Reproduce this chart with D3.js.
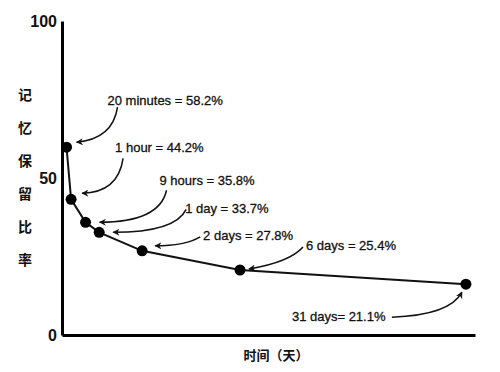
<!DOCTYPE html>
<html>
<head>
<meta charset="utf-8">
<title>遗忘曲线</title>
<script src="https://d3js.org/d3.v7.min.js"></script>
<style>
    body { margin: 0; background: #fff; }
    .axis path { stroke: #000; stroke-width: 3px; }
    .axis text { font: bold 16px "Liberation Sans", Arial, sans-serif; fill: #111; }
    .curve { fill: none; stroke: #111; stroke-width: 2px; }
    .dot { fill: #000; }
    .note { font: 13px "Liberation Sans", Arial, sans-serif; fill: #111; stroke: #111; stroke-width: 0.3px; }
    .arrow { fill: none; stroke: #111; stroke-width: 1.5px; }
    .cjk { font-family: "Noto Sans CJK SC", sans-serif; font-weight: bold; fill: #111; }
</style>
</head>
<body>
<div id="chart"></div>
<script>
// time position along the (unlabelled) x axis, 0-100
var timePos = [1.1, 2.2, 5.7, 9.0, 19.4, 43.1, 97.8];
// retention as plotted
var retention = [59.8, 43.2, 35.9, 32.7, 26.8, 20.7, 16.2];
// annotation texts
var labels = ["20 minutes = 58.2%", "1 hour = 44.2%", "9 hours = 35.8%", "1 day = 33.7%",
              "2 days = 27.8%", "6 days = 25.4%", "31 days= 21.1%"];
var yTicks = [0, 50, 100];
var yTitle = ["记", "忆", "保", "留", "比", "率"];
var xTitle = "时间（天）";

// label / arrow placement relative to each point (px)
var notes = [
    {tx: 41, ty: -47, s: [51, -40], c: [46, -8], e: [10, -5]},
    {tx: 44, ty: -52, s: [52, -41], c: [47, -7], e: [11, -6]},
    {tx: 74, ty: -42, s: [81, -32], c: [74, 0], e: [14, 0]},
    {tx: 86, ty: -24, s: [87, -23], c: [76, 0], e: [14, 0]},
    {tx: 61, ty: -15, s: [58, -14], c: [43, -5], e: [13, -5]},
    {tx: 66, ty: -25, s: [63, -23], c: [50, -8], e: [9, -1]},
    {tx: -174, ty: 32, s: [-74, 33], c: [-16, 31], e: [-4, 8]}
];

var width = 500, height = 372;

var svg = d3.select("#chart").append("svg")
    .attr("width", width).attr("height", height);

svg.append("defs").append("marker")
    .attr("id", "head")
    .attr("viewBox", "0 0 10 10")
    .attr("refX", 9).attr("refY", 5)
    .attr("markerWidth", 7).attr("markerHeight", 7)
    .attr("markerUnits", "userSpaceOnUse")
    .attr("orient", "auto")
    .append("path").attr("d", "M0,0 L10,5 L0,10 L3,5z").attr("fill", "#111");

var x = d3.scaleLinear().domain([0, 100]).range([62, 475]);
var y = d3.scaleLinear().domain([0, 100]).range([335, 21]);

svg.append("g").attr("class", "axis")
    .attr("transform", "translate(" + x(0) + ",0)")
    .call(d3.axisLeft(y).tickValues(yTicks).tickSize(0).tickPadding(5).tickSizeOuter(0));

svg.append("g").attr("class", "axis")
    .attr("transform", "translate(0," + y(0) + ")")
    .call(d3.axisBottom(x).tickValues([]).tickSizeOuter(0));

svg.selectAll(".axis text").attr("dy", "0.35em");

var pts = timePos.map(function(t, i) { return [x(t), y(retention[i])]; });

svg.append("path").attr("class", "curve")
    .attr("d", d3.line()(pts));

svg.selectAll(".dot").data(pts).enter()
    .append("circle").attr("class", "dot")
    .attr("cx", function(d) { return d[0]; })
    .attr("cy", function(d) { return d[1]; })
    .attr("r", 5.5);

svg.selectAll(".arrow").data(notes).enter()
    .append("path").attr("class", "arrow")
    .attr("marker-end", "url(#head)")
    .attr("d", function(n, i) {
        var p = pts[i];
        return "M" + (p[0] + n.s[0]) + "," + (p[1] + n.s[1]) +
            " Q" + (p[0] + n.c[0]) + "," + (p[1] + n.c[1]) +
            " " + (p[0] + n.e[0]) + "," + (p[1] + n.e[1]);
    });

svg.selectAll(".note").data(notes).enter()
    .append("text").attr("class", "note")
    .attr("x", function(n, i) { return pts[i][0] + n.tx; })
    .attr("y", function(n, i) { return pts[i][1] + n.ty; })
    .attr("dy", "0.35em")
    .text(function(n, i) { return labels[i]; });

svg.selectAll(".ytitle").data(yTitle).enter()
    .append("text").attr("class", "cjk ytitle")
    .attr("x", 25)
    .attr("y", function(d, i) { return 95 + i * 33; })
    .attr("dy", "0.35em")
    .attr("text-anchor", "middle")
    .style("font-size", "14px")
    .text(function(d) { return d; });

svg.append("text").attr("class", "cjk")
    .attr("x", 276).attr("y", 355).attr("dy", "0.35em")
    .attr("text-anchor", "middle")
    .style("font-size", "13px")
    .text(xTitle);
</script>
</body>
</html>
